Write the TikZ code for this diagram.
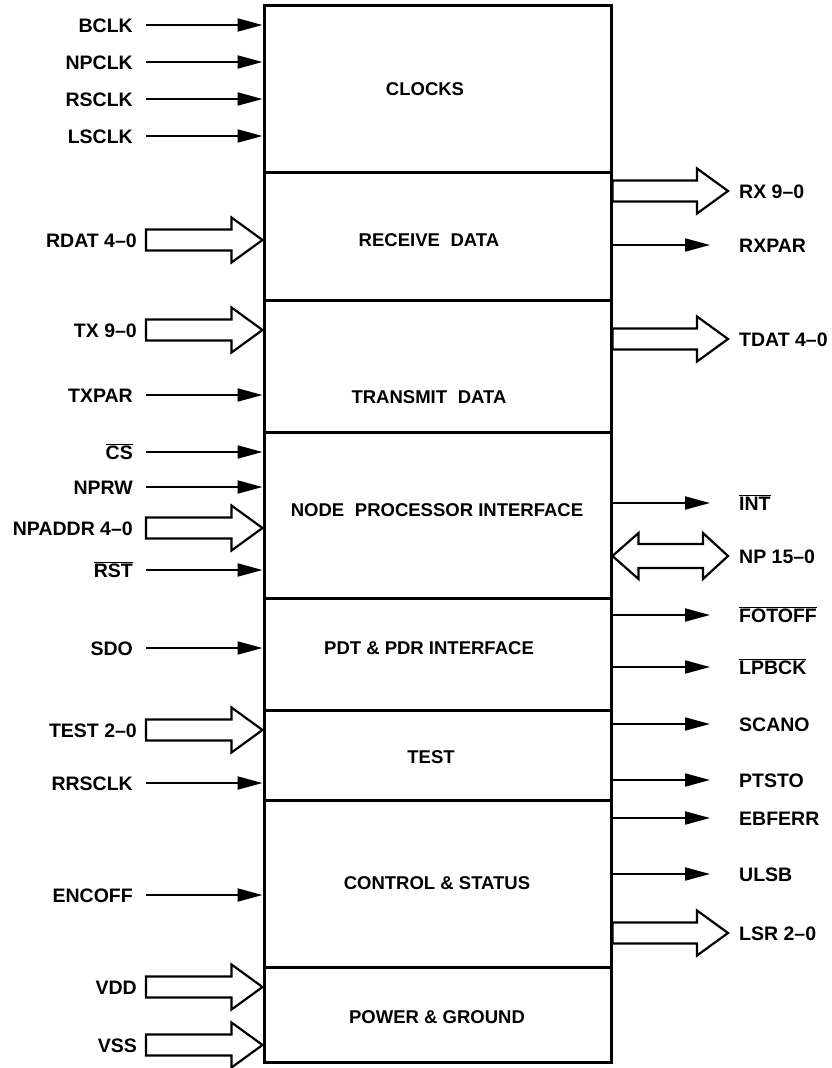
\documentclass[tikz,border=0pt]{standalone}
\usepackage{fontspec}
\setmainfont{Liberation Sans}
\usetikzlibrary{calc,arrows.meta}

% wide bus arrow, from #1 (tail) to #2 (tip), pointing right
\newcommand{\busarrow}[2]{%
  \draw[bus] let \p1=(#1), \p2=(#2) in
    (\x1,\y1+10.5pt) -- (\x2-31pt,\y1+10.5pt) -- (\x2-31pt,\y1+22.5pt) -- (\x2,\y1)
    -- (\x2-31pt,\y1-22.5pt) -- (\x2-31pt,\y1-10.5pt) -- (\x1,\y1-10.5pt) -- cycle;}
% two-way bus arrow, tips at #1 and #2
\newcommand{\dbusarrow}[2]{%
  \draw[bus] let \p1=(#1), \p2=(#2) in
    (\x1,\y1) -- (\x1+26pt,\y1+23pt) -- (\x1+26pt,\y1+12pt) -- (\x2-25pt,\y1+12pt)
    -- (\x2-25pt,\y1+23pt) -- (\x2,\y1) -- (\x2-25pt,\y1-23pt) -- (\x2-25pt,\y1-12pt)
    -- (\x1+26pt,\y1-12pt) -- (\x1+26pt,\y1-23pt) -- cycle;}
\newcommand{\nbar}[1]{$\overline{\mbox{#1}}$}

\begin{document}
\begin{tikzpicture}[
        x=1pt, y=-1pt,
        block/.style={rectangle, draw=black, line width=3pt, minimum width=347pt, inner sep=0pt},
        title/.style={font=\fontsize{18.5}{21}\selectfont\bfseries, inner sep=0pt},
        pin/.style={font=\fontsize{19.5}{22}\selectfont\bfseries, inner sep=0pt, text height=14pt, text depth=0pt},
        sig/.style={-{Triangle[length=25pt, width=13pt]}, line width=2pt},
        bus/.style={draw=black, fill=white, line width=2.2pt, line join=miter}
    ]
    \useasboundingbox (0,0) rectangle (832,1068);

    % Blocks of the chip
    \node[block, minimum height=167pt] (clocks) at (437.5, 88.5) {};
    \node[block, minimum height=128pt] (receive) at (437.5, 236) {};
    \node[block, minimum height=132pt] (transmit) at (437.5, 366) {};
    \node[block, minimum height=166pt] (npi) at (437.5, 515) {};
    \node[block, minimum height=112pt] (pdt) at (437.5, 654) {};
    \node[block, minimum height=90pt] (test) at (437.5, 755) {};
    \node[block, minimum height=167pt] (control) at (437.5, 883.5) {};
    \node[block, minimum height=95pt] (power) at (437.5, 1014.5) {};

    % Block titles
    \node[title] (clockstxt) at (425, 89) {CLOCKS};
    \node[title] (receivetxt) at (429, 240) {RECEIVE\hspace{0.3em} DATA};
    \node[title] (transmittxt) at (429, 397) {TRANSMIT\hspace{0.3em} DATA};
    \node[title] (npitxt) at (437, 510) {NODE\hspace{0.3em} PROCESSOR INTERFACE};
    \node[title] (pdttxt) at (429, 648) {PDT \& PDR INTERFACE};
    \node[title] (testtxt) at (431, 757) {TEST};
    \node[title] (controltxt) at (437, 883) {CONTROL \& STATUS};
    \node[title] (powertxt) at (437, 1017) {POWER \& GROUND};

    % Inputs
    \node[pin, anchor=east] (bclk) at (133, 25) {BCLK};
    \node[pin, anchor=east] (npclk) at (133, 62) {NPCLK};
    \node[pin, anchor=east] (rsclk) at (133, 99) {RSCLK};
    \node[pin, anchor=east] (lsclk) at (133, 136) {LSCLK};
    \node[pin, anchor=east] (rdat) at (137, 240) {RDAT 4--0};
    \node[pin, anchor=east] (tx) at (137, 330) {TX 9--0};
    \node[pin, anchor=east] (txpar) at (133, 395) {TXPAR};
    \node[pin, anchor=east] (cs) at (133, 452) {\nbar{CS}};
    \node[pin, anchor=east] (nprw) at (133, 487) {NPRW};
    \node[pin, anchor=east] (npaddr) at (133, 528) {NPADDR 4--0};
    \node[pin, anchor=east] (rst) at (133, 570) {\nbar{RST}};
    \node[pin, anchor=east] (sdo) at (133, 648) {SDO};
    \node[pin, anchor=east] (testin) at (137, 730) {TEST 2--0};
    \node[pin, anchor=east] (rrsclk) at (133, 783) {RRSCLK};
    \node[pin, anchor=east] (encoff) at (133, 895) {ENCOFF};
    \node[pin, anchor=east] (vdd) at (137, 987) {VDD};
    \node[pin, anchor=east] (vss) at (137, 1045) {VSS};

    \draw[sig] ([xshift=13pt]bclk.east) -- (bclk -| clocks.west);
    \draw[sig] ([xshift=13pt]npclk.east) -- (npclk -| clocks.west);
    \draw[sig] ([xshift=13pt]rsclk.east) -- (rsclk -| clocks.west);
    \draw[sig] ([xshift=13pt]lsclk.east) -- (lsclk -| clocks.west);
    \busarrow{[xshift=9pt]rdat.east}{rdat -| receive.west}
    \busarrow{[xshift=9pt]tx.east}{tx -| transmit.west}
    \draw[sig] ([xshift=13pt]txpar.east) -- (txpar -| transmit.west);
    \draw[sig] ([xshift=13pt]cs.east) -- (cs -| npi.west);
    \draw[sig] ([xshift=13pt]nprw.east) -- (nprw -| npi.west);
    \busarrow{[xshift=13pt]npaddr.east}{npaddr -| npi.west}
    \draw[sig] ([xshift=13pt]rst.east) -- (rst -| npi.west);
    \draw[sig] ([xshift=13pt]sdo.east) -- (sdo -| pdt.west);
    \busarrow{[xshift=9pt]testin.east}{testin -| test.west}
    \draw[sig] ([xshift=13pt]rrsclk.east) -- (rrsclk -| test.west);
    \draw[sig] ([xshift=13pt]encoff.east) -- (encoff -| control.west);
    \busarrow{[xshift=9pt]vdd.east}{vdd -| power.west}
    \busarrow{[xshift=9pt]vss.east}{vss -| power.west}

    % Outputs
    \node[pin, anchor=west] (rx) at (739, 191) {RX 9--0};
    \node[pin, anchor=west] (rxpar) at (739, 245) {RXPAR};
    \node[pin, anchor=west] (tdat) at (739, 339) {TDAT 4--0};
    \node[pin, anchor=west] (int) at (739, 503) {\nbar{INT}};
    \node[pin, anchor=west] (np) at (739, 556) {NP 15--0};
    \node[pin, anchor=west] (fotoff) at (739, 615) {\nbar{FOTOFF}};
    \node[pin, anchor=west] (lpbck) at (739, 667) {\nbar{LPBCK}};
    \node[pin, anchor=west] (scano) at (739, 724) {SCANO};
    \node[pin, anchor=west] (ptsto) at (739, 780) {PTSTO};
    \node[pin, anchor=west] (ebferr) at (739, 818) {EBFERR};
    \node[pin, anchor=west] (ulsb) at (739, 874) {ULSB};
    \node[pin, anchor=west] (lsr) at (739, 933) {LSR 2--0};

    \busarrow{rx -| receive.east}{[xshift=-11pt]rx.west}
    \draw[sig] (rxpar -| receive.east) -- ([xshift=-29pt]rxpar.west);
    \busarrow{tdat -| transmit.east}{[xshift=-11pt]tdat.west}
    \draw[sig] (int -| npi.east) -- ([xshift=-29pt]int.west);
    \dbusarrow{np -| npi.east}{[xshift=-11pt]np.west}
    \draw[sig] (fotoff -| pdt.east) -- ([xshift=-29pt]fotoff.west);
    \draw[sig] (lpbck -| pdt.east) -- ([xshift=-29pt]lpbck.west);
    \draw[sig] (scano -| test.east) -- ([xshift=-29pt]scano.west);
    \draw[sig] (ptsto -| test.east) -- ([xshift=-29pt]ptsto.west);
    \draw[sig] (ebferr -| control.east) -- ([xshift=-29pt]ebferr.west);
    \draw[sig] (ulsb -| control.east) -- ([xshift=-29pt]ulsb.west);
    \busarrow{lsr -| control.east}{[xshift=-11pt]lsr.west}

\end{tikzpicture}
\end{document}
